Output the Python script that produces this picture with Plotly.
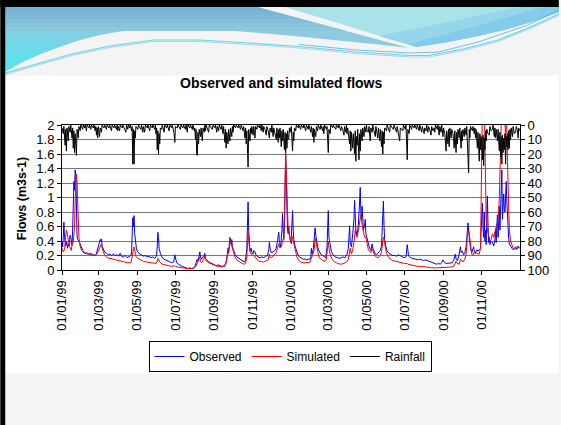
import pandas as pd
import plotly.graph_objects as go

# ---------------------------------------------------------------- data
START = "1999-01-01"
TICK_DATES = ["1999-01-01", "1999-03-01", "1999-05-01", "1999-07-01",
              "1999-09-01", "1999-11-01", "2000-01-01", "2000-03-01",
              "2000-05-01", "2000-07-01", "2000-09-01", "2000-11-01"]
FLOW_TICKS = [0, 0.2, 0.4, 0.6, 0.8, 1, 1.2, 1.4, 1.6, 1.8, 2]
RAIN_TICKS = [0, 10, 20, 30, 40, 50, 60, 70, 80, 90, 100]

# (day since 1 Jan 1999, flow m3/s)
OBSERVED = [
    (0, 0.40), (1, 0.32), (2, 0.45), (3, 0.66), (4, 0.45), (5, 0.36), (6, 0.33), (7, 0.40),
    (8, 0.35), (9, 0.30), (10, 0.36), (11, 0.33), (12, 0.42), (13, 0.48), (14, 0.45), (15, 0.38),
    (16, 0.34), (17, 0.55), (18, 1.00), (19, 1.22), (20, 1.10), (21, 1.38), (22, 1.30), (23, 0.70),
    (24, 0.48), (25, 0.42), (27, 0.40), (29, 0.36), (31, 0.30), (33, 0.27), (35, 0.25), (37, 0.23),
    (40, 0.24), (42, 0.22), (44, 0.23), (47, 0.22), (50, 0.21), (53, 0.20), (55, 0.23), (57, 0.30),
    (59, 0.34), (60, 0.38), (61, 0.42), (62, 0.40), (63, 0.43), (64, 0.33), (66, 0.28), (68, 0.25),
    (71, 0.23), (74, 0.21), (77, 0.22), (79, 0.20), (82, 0.22), (85, 0.20), (88, 0.21), (90, 0.19),
    (93, 0.23), (95, 0.19), (98, 0.18), (101, 0.20), (104, 0.17), (107, 0.18), (110, 0.20), (111, 0.25),
    (112, 0.55), (113, 0.72), (114, 0.60), (115, 0.75), (116, 0.50), (117, 0.38), (119, 0.28), (121, 0.25),
    (124, 0.22), (127, 0.21), (130, 0.19), (133, 0.20), (136, 0.18), (139, 0.19), (142, 0.17), (145, 0.18),
    (148, 0.16), (150, 0.18), (151, 0.22), (152, 0.32), (153, 0.52), (154, 0.45), (155, 0.30), (157, 0.23),
    (160, 0.17), (163, 0.15), (166, 0.14), (169, 0.12), (172, 0.12), (175, 0.10), (178, 0.11), (179, 0.14),
    (180, 0.21), (181, 0.15), (183, 0.10), (186, 0.08), (189, 0.06), (192, 0.05), (195, 0.04), (198, 0.03),
    (201, 0.02), (204, 0.03), (207, 0.02), (210, 0.03), (212, 0.05), (214, 0.10), (216, 0.15), (217, 0.12),
    (219, 0.22), (220, 0.25), (221, 0.18), (223, 0.15), (225, 0.18), (227, 0.20), (228, 0.23), (229, 0.16),
    (231, 0.14), (234, 0.11), (237, 0.10), (240, 0.09), (243, 0.07), (246, 0.06), (249, 0.07), (252, 0.06),
    (255, 0.05), (258, 0.06), (261, 0.08), (263, 0.15), (264, 0.22), (265, 0.30), (266, 0.25), (267, 0.38),
    (268, 0.45), (269, 0.40), (270, 0.35), (271, 0.42), (272, 0.32), (274, 0.27), (276, 0.22), (279, 0.18),
    (282, 0.16), (285, 0.14), (288, 0.12), (291, 0.11), (293, 0.14), (295, 0.30), (296, 0.60), (297, 0.94),
    (298, 0.55), (299, 0.35), (300, 0.26), (302, 0.30), (303, 0.24), (305, 0.22), (306, 0.27), (308, 0.25),
    (310, 0.20), (313, 0.18), (316, 0.17), (319, 0.18), (322, 0.17), (325, 0.19), (328, 0.20), (330, 0.28),
    (331, 0.38), (332, 0.30), (334, 0.24), (337, 0.25), (340, 0.27), (342, 0.30), (344, 0.45), (346, 0.52),
    (347, 0.38), (349, 0.32), (351, 0.55), (352, 0.78), (353, 0.55), (354, 0.42), (355, 0.60), (356, 1.10),
    (357, 1.58), (358, 1.20), (359, 0.80), (360, 0.55), (361, 0.50), (362, 0.60), (363, 0.48), (365, 0.38),
    (366, 0.45), (367, 0.70), (368, 0.82), (369, 0.55), (370, 0.42), (372, 0.33), (374, 0.28), (376, 0.22),
    (379, 0.18), (382, 0.16), (385, 0.15), (388, 0.15), (391, 0.14), (394, 0.15), (397, 0.16), (398, 0.30),
    (399, 0.22), (401, 0.28), (403, 0.45), (404, 0.58), (405, 0.48), (406, 0.40), (408, 0.32), (410, 0.27),
    (413, 0.22), (416, 0.20), (419, 0.18), (421, 0.17), (423, 0.32), (424, 0.60), (425, 0.82), (426, 0.45),
    (428, 0.32), (430, 0.25), (433, 0.21), (436, 0.18), (440, 0.17), (444, 0.16), (448, 0.18), (452, 0.17),
    (455, 0.22), (457, 0.30), (458, 0.45), (459, 0.61), (460, 0.38), (462, 0.32), (464, 0.50), (466, 0.70),
    (467, 0.96), (468, 0.72), (469, 0.55), (471, 0.48), (473, 0.62), (475, 0.95), (476, 1.14), (477, 0.80),
    (478, 0.68), (479, 0.88), (480, 0.70), (481, 0.55), (483, 0.62), (484, 0.70), (485, 0.50), (487, 0.42),
    (489, 0.34), (491, 0.30), (493, 0.27), (495, 0.36), (496, 0.30), (498, 0.26), (500, 0.22), (502, 0.21),
    (504, 0.24), (506, 0.25), (508, 0.27), (510, 0.33), (511, 0.55), (512, 0.75), (513, 0.95), (514, 0.60),
    (515, 0.42), (517, 0.32), (519, 0.26), (522, 0.23), (525, 0.21), (528, 0.20), (531, 0.20), (534, 0.19),
    (537, 0.21), (540, 0.20), (543, 0.18), (546, 0.17), (549, 0.18), (550, 0.24), (551, 0.35), (552, 0.28),
    (553, 0.20), (556, 0.17), (559, 0.16), (562, 0.15), (565, 0.15), (568, 0.14), (571, 0.15), (574, 0.14),
    (577, 0.13), (580, 0.14), (583, 0.13), (586, 0.12), (589, 0.11), (592, 0.10), (595, 0.09), (598, 0.08),
    (601, 0.09), (604, 0.08), (606, 0.10), (608, 0.14), (609, 0.12), (611, 0.10), (614, 0.09), (617, 0.09),
    (620, 0.10), (623, 0.10), (625, 0.13), (627, 0.20), (628, 0.22), (629, 0.15), (631, 0.13), (633, 0.18),
    (635, 0.30), (636, 0.32), (637, 0.24), (639, 0.26), (641, 0.21), (643, 0.24), (645, 0.32), (646, 0.45),
    (647, 0.58), (648, 0.65), (649, 0.55), (650, 0.42), (652, 0.30), (654, 0.24), (656, 0.28), (657, 0.32),
    (658, 0.26), (660, 0.24), (662, 0.28), (664, 0.26), (666, 0.28), (668, 0.30), (669, 0.55), (670, 0.88),
    (671, 0.92), (672, 0.60), (673, 0.45), (674, 0.80), (675, 0.40), (676, 0.55), (677, 0.35), (678, 0.75),
    (679, 1.02), (680, 0.60), (681, 0.38), (682, 0.45), (683, 0.35), (685, 0.40), (687, 0.38), (689, 0.33),
    (691, 0.42), (692, 0.55), (693, 0.38), (694, 0.62), (695, 0.76), (696, 0.45), (697, 0.60), (698, 0.88),
    (699, 0.55), (700, 0.92), (701, 1.20), (702, 1.38), (703, 0.70), (704, 0.95), (705, 1.05), (706, 0.85),
    (707, 0.80), (708, 1.00), (709, 1.22), (710, 0.95), (711, 0.70), (712, 0.55), (713, 0.42), (714, 0.36),
    (716, 0.32), (718, 0.30), (720, 0.28), (722, 0.30), (724, 0.32), (726, 0.29), (728, 0.33), (730, 0.30),
]

SIMULATED = [
    (0, 0.30), (2, 0.25), (4, 0.28), (5, 0.35), (6, 0.50), (7, 0.55), (8, 0.52), (9, 0.45),
    (10, 0.42), (12, 0.33), (14, 0.28), (15, 0.27), (16, 0.35), (17, 0.40), (18, 0.38), (19, 0.50),
    (20, 0.60), (21, 0.95), (22, 1.20), (23, 1.32), (24, 1.20), (25, 0.95), (26, 0.65), (27, 0.45),
    (29, 0.32), (31, 0.27), (33, 0.25), (36, 0.23), (40, 0.22), (44, 0.22), (48, 0.21), (52, 0.20),
    (55, 0.21), (57, 0.25), (59, 0.30), (61, 0.33), (63, 0.36), (64, 0.30), (66, 0.24), (68, 0.21),
    (72, 0.17), (76, 0.16), (80, 0.15), (85, 0.14), (90, 0.13), (95, 0.12), (100, 0.11), (105, 0.10),
    (110, 0.10), (112, 0.18), (113, 0.28), (114, 0.30), (115, 0.32), (116, 0.25), (118, 0.19), (121, 0.16),
    (125, 0.14), (130, 0.12), (135, 0.11), (140, 0.10), (145, 0.10), (150, 0.09), (152, 0.12), (153, 0.16),
    (154, 0.15), (156, 0.11), (160, 0.08), (165, 0.07), (170, 0.06), (175, 0.05), (180, 0.06), (181, 0.05),
    (185, 0.04), (190, 0.03), (195, 0.03), (200, 0.02), (205, 0.02), (210, 0.02), (213, 0.04), (215, 0.08),
    (217, 0.12), (219, 0.16), (220, 0.18), (221, 0.12), (223, 0.10), (226, 0.14), (228, 0.20), (229, 0.15),
    (231, 0.12), (234, 0.10), (237, 0.09), (240, 0.07), (244, 0.06), (248, 0.05), (252, 0.05), (256, 0.04),
    (260, 0.05), (262, 0.10), (264, 0.20), (266, 0.25), (268, 0.38), (269, 0.42), (270, 0.36), (272, 0.30),
    (274, 0.24), (276, 0.18), (279, 0.14), (282, 0.12), (286, 0.10), (290, 0.08), (293, 0.09), (295, 0.18),
    (296, 0.35), (297, 0.52), (298, 0.40), (300, 0.25), (302, 0.22), (304, 0.20), (306, 0.20), (308, 0.18),
    (311, 0.14), (314, 0.12), (318, 0.12), (322, 0.11), (326, 0.13), (329, 0.14), (331, 0.22), (332, 0.18),
    (334, 0.17), (337, 0.20), (340, 0.22), (342, 0.24), (344, 0.30), (346, 0.36), (348, 0.30), (350, 0.32),
    (352, 0.40), (354, 0.45), (355, 0.70), (356, 1.20), (357, 1.62), (358, 1.35), (359, 0.95), (360, 0.65),
    (361, 0.55), (362, 0.52), (363, 0.48), (365, 0.38), (366, 0.36), (367, 0.42), (368, 0.46), (369, 0.40),
    (371, 0.33), (373, 0.26), (375, 0.18), (378, 0.13), (381, 0.11), (385, 0.10), (390, 0.10), (395, 0.10),
    (398, 0.16), (400, 0.20), (402, 0.26), (404, 0.40), (405, 0.44), (406, 0.35), (408, 0.25), (410, 0.18),
    (413, 0.15), (416, 0.13), (420, 0.12), (422, 0.15), (424, 0.32), (425, 0.40), (426, 0.30), (428, 0.22),
    (431, 0.15), (435, 0.11), (440, 0.09), (445, 0.08), (450, 0.09), (454, 0.11), (457, 0.15), (459, 0.28),
    (460, 0.30), (462, 0.22), (464, 0.28), (466, 0.38), (468, 0.55), (469, 0.50), (471, 0.45), (473, 0.55),
    (475, 0.70), (477, 0.76), (479, 0.62), (481, 0.50), (483, 0.45), (485, 0.45), (487, 0.35), (489, 0.28),
    (491, 0.26), (493, 0.24), (495, 0.30), (497, 0.25), (499, 0.20), (502, 0.18), (505, 0.17), (508, 0.20),
    (510, 0.25), (512, 0.40), (513, 0.45), (514, 0.42), (516, 0.30), (518, 0.23), (521, 0.18), (524, 0.15),
    (528, 0.13), (532, 0.12), (537, 0.11), (542, 0.10), (547, 0.09), (551, 0.09), (552, 0.08), (557, 0.07),
    (562, 0.06), (568, 0.05), (575, 0.05), (582, 0.04), (590, 0.03), (598, 0.03), (605, 0.03), (610, 0.03),
    (615, 0.03), (620, 0.04), (625, 0.05), (628, 0.10), (629, 0.12), (631, 0.09), (634, 0.08), (636, 0.15),
    (637, 0.14), (640, 0.11), (643, 0.15), (645, 0.22), (647, 0.45), (649, 0.55), (650, 0.50), (652, 0.32),
    (654, 0.22), (656, 0.20), (658, 0.25), (660, 0.22), (662, 0.24), (664, 0.22), (666, 0.22), (668, 0.30),
    (669, 0.80), (670, 1.60), (671, 2.30), (674, 2.30), (675, 1.80), (676, 1.00), (677, 0.70), (679, 0.55),
    (681, 0.45), (683, 0.40), (685, 0.42), (687, 0.50), (689, 0.45), (691, 0.55), (693, 0.60), (695, 0.65),
    (697, 0.80), (698, 1.00), (699, 1.30), (700, 1.45), (701, 1.80), (702, 2.30), (706, 2.30), (707, 1.90),
    (708, 1.80), (709, 2.10), (710, 2.00), (711, 1.50), (712, 1.10), (713, 0.80), (714, 0.55), (716, 0.40),
    (718, 0.33), (720, 0.30), (722, 0.28), (724, 0.30), (726, 0.28), (728, 0.32), (730, 0.30),
]

# (day since 1 Jan 1999, rainfall mm)
RAINFALL = [
    (0, 2), (2, 6), (3, 1), (5, 14), (6, 3), (7, 18), (8, 2), (10, 11), (11, 1), (13, 5), (14, 0),
    (16, 9), (17, 2), (18, 16), (19, 4), (20, 19), (21, 6), (23, 21), (24, 3), (26, 9), (27, 1),
    (29, 4), (30, 0), (33, 3), (34, 0), (36, 2), (37, 0), (39, 4), (40, 0), (43, 2), (44, 0),
    (46, 3), (47, 0), (50, 2), (51, 0), (53, 4), (54, 1), (55, 7), (56, 2), (57, 9), (58, 1),
    (60, 8), (61, 2), (63, 5), (64, 0), (67, 2), (68, 0), (71, 3), (72, 0), (75, 2), (76, 0),
    (79, 4), (80, 0), (83, 2), (84, 0), (87, 3), (88, 0), (89, 4), (90, 1), (92, 4), (93, 0),
    (96, 2), (97, 0), (100, 3), (102, 5), (103, 0), (105, 3), (106, 0), (108, 2), (109, 0),
    (111, 4), (112, 1), (113, 27), (114, 3), (115, 27), (116, 4), (117, 9), (118, 1), (121, 3),
    (122, 0), (124, 2), (126, 3), (127, 0), (129, 5), (130, 1), (132, 5), (133, 0), (136, 2),
    (137, 0), (140, 4), (141, 0), (144, 2), (145, 0), (148, 3), (149, 0), (150, 6), (151, 2),
    (152, 17), (153, 4), (154, 20), (155, 6), (156, 13), (157, 2), (159, 3), (160, 0), (163, 5),
    (164, 0), (167, 2), (168, 0), (171, 4), (172, 0), (175, 2), (176, 0), (179, 6), (180, 12),
    (181, 1), (184, 2), (185, 0), (189, 3), (190, 0), (193, 2), (194, 0), (197, 3), (198, 0),
    (200, 5), (201, 0), (204, 2), (205, 0), (208, 3), (209, 0), (211, 4), (212, 2), (213, 10),
    (214, 3), (215, 20), (216, 21), (217, 5), (218, 13), (219, 3), (221, 8), (222, 2), (224, 11),
    (225, 2), (227, 5), (228, 0), (229, 4), (230, 0), (232, 3), (234, 5), (235, 0), (238, 2),
    (240, 3), (241, 0), (244, 2), (245, 0), (247, 5), (248, 1), (250, 4), (251, 0), (254, 3),
    (255, 0), (257, 6), (258, 1), (260, 12), (261, 3), (262, 16), (263, 5), (265, 13), (266, 3),
    (268, 11), (269, 2), (271, 8), (272, 1), (273, 5), (274, 0), (277, 2), (278, 0), (281, 2),
    (282, 0), (285, 3), (286, 0), (289, 4), (290, 1), (292, 9), (293, 2), (294, 13), (295, 4),
    (297, 29), (298, 3), (300, 11), (301, 2), (302, 6), (303, 1), (305, 7), (306, 1), (308, 9),
    (309, 1), (311, 3), (312, 0), (315, 2), (316, 0), (318, 4), (319, 0), (321, 5), (322, 1),
    (324, 3), (326, 7), (327, 1), (329, 4), (331, 9), (332, 2), (334, 5), (335, 0), (337, 8),
    (338, 2), (340, 6), (342, 10), (343, 2), (345, 12), (346, 3), (347, 9), (348, 2), (350, 15),
    (351, 4), (352, 11), (353, 3), (354, 8), (355, 17), (356, 5), (357, 19), (358, 6), (359, 16),
    (360, 4), (361, 10), (362, 9), (363, 2), (364, 5), (365, 3), (366, 1), (368, 18), (369, 5),
    (370, 11), (371, 2), (373, 4), (374, 0), (377, 2), (378, 0), (381, 3), (382, 0), (385, 2),
    (386, 0), (389, 4), (390, 0), (393, 3), (394, 0), (397, 5), (398, 1), (400, 8), (401, 2),
    (402, 12), (403, 3), (405, 8), (406, 1), (408, 4), (409, 0), (412, 3), (413, 0), (416, 4),
    (417, 1), (418, 6), (419, 0), (422, 3), (423, 1), (425, 19), (426, 3), (428, 6), (429, 0),
    (432, 2), (433, 0), (437, 3), (438, 0), (441, 2), (442, 0), (445, 4), (446, 1), (448, 3),
    (450, 7), (451, 1), (453, 5), (454, 0), (455, 6), (456, 2), (458, 10), (459, 13), (460, 4),
    (461, 18), (462, 5), (464, 16), (465, 6), (467, 20), (468, 4), (469, 25), (470, 8), (471, 14),
    (472, 3), (474, 24), (475, 6), (476, 18), (477, 3), (479, 11), (480, 2), (482, 8), (483, 1),
    (485, 5), (486, 0), (487, 4), (489, 5), (490, 1), (492, 11), (493, 2), (495, 5), (496, 0),
    (498, 4), (500, 8), (501, 1), (504, 9), (505, 2), (507, 11), (508, 3), (510, 15), (511, 4),
    (512, 20), (513, 5), (514, 13), (515, 2), (518, 4), (519, 0), (521, 3), (523, 5), (524, 0),
    (527, 2), (529, 3), (530, 0), (534, 5), (535, 1), (537, 6), (539, 11), (540, 2), (542, 3),
    (544, 4), (545, 0), (548, 3), (549, 0), (551, 24), (552, 3), (554, 6), (555, 0), (558, 3),
    (559, 0), (562, 2), (563, 0), (566, 3), (567, 0), (570, 4), (571, 0), (574, 5), (575, 1),
    (578, 6), (579, 2), (581, 4), (582, 0), (584, 5), (585, 1), (587, 3), (589, 7), (590, 1),
    (592, 4), (594, 2), (595, 5), (596, 0), (599, 3), (600, 0), (602, 7), (603, 1), (605, 5),
    (606, 0), (608, 8), (609, 2), (611, 6), (613, 18), (614, 4), (616, 13), (617, 3), (618, 15),
    (619, 2), (621, 9), (622, 3), (624, 6), (626, 16), (627, 4), (629, 19), (630, 5), (631, 13),
    (632, 3), (634, 9), (635, 2), (637, 16), (638, 4), (639, 11), (640, 3), (642, 8), (643, 2),
    (645, 7), (646, 1), (649, 33), (650, 3), (651, 9), (652, 1), (655, 4), (656, 1), (658, 6),
    (659, 2), (660, 9), (661, 3), (663, 16), (664, 5), (666, 25), (667, 6), (668, 17), (669, 8),
    (670, 15), (671, 24), (672, 7), (673, 28), (674, 9), (675, 17), (676, 4), (677, 11), (678, 3),
    (680, 6), (682, 7), (683, 1), (685, 4), (687, 3), (688, 0), (690, 8), (691, 2), (692, 9),
    (693, 3), (695, 11), (696, 3), (697, 12), (698, 18), (699, 5), (700, 22), (701, 8), (702, 27),
    (703, 7), (704, 19), (705, 9), (706, 17), (707, 6), (708, 27), (709, 8), (710, 15), (711, 6),
    (712, 17), (713, 4), (714, 16), (715, 3), (716, 10), (717, 2), (719, 8), (720, 1), (722, 6),
    (724, 5), (725, 1), (727, 4), (728, 9), (729, 2), (730, 4),
]


def split(series):
    days, vals = zip(*series)
    dates = pd.Timestamp(START) + pd.to_timedelta(list(days), unit="D")
    return dates, list(vals)


# ---------------------------------------------------------------- layout geometry
W, H = 561, 425
ML, MR, MT, MB = 62, 39, 125, 155
PW, PH = W - ML - MR, H - MT - MB
FONT = "Liberation Sans, Arial, sans-serif"


def px(x):
    return (x - ML) / PW


def py(y):
    return (H - MB - y) / PH


def poly(pts, close=True):
    s = "M " + " L ".join(f"{px(x):.4f},{py(y):.4f}" for x, y in pts)
    return s + (" Z" if close else "")


def area(pts, color, opacity=1.0):
    return dict(type="path", xref="paper", yref="paper", path=poly(pts),
                fillcolor=color, opacity=opacity, line=dict(width=0), layer="below")


def stroke(pts, color, width):
    return dict(type="path", xref="paper", yref="paper", path=poly(pts, close=False),
                line=dict(color=color, width=width), layer="below")


# slide header swoosh
swoosh_edge = [(5, 71.5), (20, 63), (40, 54), (60, 46.5), (80, 40), (100, 35), (120, 31.5),
               (140, 29.5), (160, 28.5), (180, 28.5), (200, 29), (230, 30.5), (260, 33),
               (300, 36.5), (340, 40.5), (380, 44.5), (411, 48)]
thin_line = [(5, 73), (40, 63), (72, 54), (110, 46), (154, 40), (200, 40), (250, 43),
             (300, 46.5), (358, 52), (411, 55.5), (430, 55.5), (465, 49), (500, 40),
             (530, 28), (561, 14)]
right_edge = [(561, 12), (540, 20), (510, 29), (480, 36), (450, 42), (418, 47)]


def stripe_x(y):
    # left border of the white diagonal ribbon in the header
    return 258 + (y - 7) * (411 - 258) / 41


# stacked bands give the blue block a soft top-to-bottom shading
band_cols = ["#78b0d3", "#7bb5d5", "#7fbad8", "#83bfda", "#87c4dc", "#8ac8de"]
band_edges = [7, 11, 15, 19, 23, 27, 31]

shapes = [
    dict(type="rect", xref="paper", yref="paper", x0=px(5), x1=px(561), y0=py(75.5), y1=py(373.5),
         fillcolor="white", line=dict(width=0), layer="below"),
    area([(5, 7), (258, 7)] + swoosh_edge[::-1], "#8dcce0"),
]
for col, y0, y1 in zip(band_cols, band_edges[:-1], band_edges[1:]):
    shapes.append(area([(5, y0), (stripe_x(y0), y0), (stripe_x(y1), y1), (5, y1)], col))
shapes += [
    area([(5, 30), (90, 32), (100, 35), (80, 40), (60, 46.5), (40, 54), (20, 63), (5, 71.5)], "#80d2e5"),
    area([(5, 40), (60, 42), (70, 43), (60, 46.5), (40, 54), (20, 63), (5, 71.5)], "#70d9e9"),
    area([(5, 52), (35, 53), (40, 54), (20, 63), (5, 71.5)], "#60e0ed"),
    # right cyan block
    area([(286, 7), (561, 7)] + right_edge, "#a8e3ea"),
    area([(380, 36), (450, 22), (520, 7), (561, 7)] + right_edge, "#96d6ea"),
    area([(410, 44), (475, 27), (545, 7), (561, 7)] + right_edge, "#84caea"),
    # thin ribbon lines
    stroke(thin_line, "#63d4e4", 1.2),
    stroke([(x, y + 1.5) for x, y in thin_line], "#a3d6ee", 1),
    stroke([(300, 44.5), (358, 50), (411, 53), (440, 52), (480, 42), (530, 25), (561, 10)], "#4fb4e2", 0.8),
    # black slide frame
    dict(type="rect", xref="paper", yref="paper", x0=px(0), x1=px(561), y0=py(0), y1=py(7),
         fillcolor="black", line=dict(width=0), layer="above"),
    dict(type="rect", xref="paper", yref="paper", x0=px(0), x1=px(5), y0=py(0), y1=py(425),
         fillcolor="black", line=dict(width=0), layer="above"),
]

# ---------------------------------------------------------------- traces
fig = go.Figure()

rain_x, rain_y = split(RAINFALL)
obs_x, obs_y = split(OBSERVED)
sim_x, sim_y = split(SIMULATED)

fig.add_trace(go.Scatter(x=obs_x, y=obs_y, name="Observed", mode="lines",
                         line=dict(color="#0000ff", width=1), legendrank=1))
fig.add_trace(go.Scatter(x=sim_x, y=sim_y, name="Simulated", mode="lines",
                         line=dict(color="#ff0000", width=1), legendrank=2))
fig.add_trace(go.Scatter(x=rain_x, y=rain_y, name="Rainfall", mode="lines", yaxis="y2",
                         line=dict(color="black", width=1), legendrank=3))

axis_font = dict(family=FONT, size=13, color="black")

fig.update_layout(
    width=W, height=H, autosize=False,
    margin=dict(l=ML, r=MR, t=MT, b=MB, pad=0),
    paper_bgcolor="#f4f4f4", plot_bgcolor="white",
    font=dict(family=FONT, color="black"),
    showlegend=True,
    legend=dict(orientation="h", x=px(291), xanchor="center", y=py(341), yanchor="top",
                bgcolor="white", bordercolor="black", borderwidth=1,
                font=dict(family=FONT, size=12, color="black"),
                itemwidth=30, tracegroupgap=0),
    xaxis=dict(type="date", range=[START, "2001-01-01"], tickvals=TICK_DATES,
               tickformat="%d/%m/%y", tickangle=-90, tickfont=axis_font,
               ticks="outside", ticklen=4, tickcolor="black",
               showline=True, linecolor="black", linewidth=1, mirror=True,
               showgrid=False, zeroline=False),
    yaxis=dict(range=[0, 2], tickvals=FLOW_TICKS, tickfont=axis_font,
               ticks="outside", ticklen=4, tickcolor="black",
               showline=True, linecolor="black", linewidth=1,
               showgrid=True, gridcolor="#767676", gridwidth=1.2, zeroline=False),
    yaxis2=dict(range=[100, 0], tickvals=RAIN_TICKS, tickfont=axis_font, overlaying="y",
                side="right", ticks="outside", ticklen=4, tickcolor="black",
                showline=True, linecolor="black", linewidth=1,
                showgrid=False, zeroline=False),
    shapes=shapes,
    annotations=[
        dict(text="Observed and simulated flows", xref="paper", yref="paper",
             x=px(282), y=py(83), xanchor="center", yanchor="middle", showarrow=False,
             font=dict(family=FONT, size=14, color="black", weight="bold")),
        dict(text="Flows (m3s-1)", xref="paper", yref="paper", textangle=-90,
             x=px(21.5), y=py(198.5), xanchor="center", yanchor="middle", showarrow=False,
             font=dict(family=FONT, size=12.5, color="black", weight="bold")),
    ],
)

fig.write_html("out.html", config={"displayModeBar": False})
